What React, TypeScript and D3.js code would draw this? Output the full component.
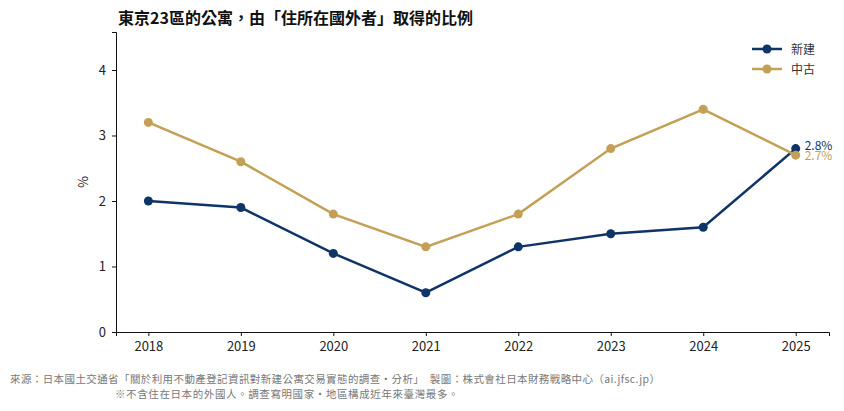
import React, { useEffect, useRef } from "react";
import * as d3 from "d3";

const years = [2018, 2019, 2020, 2021, 2022, 2023, 2024, 2025];
const newBuild = [2.0, 1.9, 1.2, 0.6, 1.3, 1.5, 1.6, 2.8];
const used = [3.2, 2.6, 1.8, 1.3, 1.8, 2.8, 3.4, 2.7];
const yTicks = [0, 1, 2, 3, 4];
const seriesNames = ["新建", "中古"];
const colors = ["#0f3468", "#c4a057"];

const FONT = "'Noto Sans CJK TC', 'Noto Sans', sans-serif";

export default function App() {
  const svgRef = useRef<SVGSVGElement>(null);

  useEffect(() => {
    if (!svgRef.current) return;
    const root = d3.select(svgRef.current);
    root.selectAll("*").remove();

    const left = 116, right = 829, top = 32, bottom = 332;
    const x = d3.scaleLinear().domain([2017.65, 2025.36]).range([left, right]);
    const y = d3.scaleLinear().domain([0, 4.58]).range([bottom, top]);

    // title
    root.append("text").attr("x", 118).attr("y", 24)
      .style("font-family", FONT).style("font-size", "16px").style("font-weight", "bold")
      .attr("fill", "#111").text("東京23區的公寓，由「住所在國外者」取得的比例");

    // axes
    const xAxis = root.append("g").attr("transform", `translate(0,${bottom})`)
      .call(d3.axisBottom(x).tickValues(years).tickFormat(d3.format("d")).tickSizeOuter(0).tickSize(4).tickPadding(6));
    const yAxis = root.append("g").attr("transform", `translate(${left},0)`)
      .call(d3.axisLeft(y).tickValues(yTicks).tickFormat(d3.format("d")).tickSizeOuter(0).tickSize(4).tickPadding(6));
    [xAxis, yAxis].forEach(a => {
      a.select(".domain").attr("stroke", "#111");
      a.selectAll("line").attr("stroke", "#111");
      a.selectAll("text").style("font-family", FONT).style("font-size", "13px").attr("fill", "#222");
    });

    root.append("text").attr("transform", `translate(88,${(top + bottom) / 2}) rotate(-90)`)
      .attr("text-anchor", "middle").style("font-family", FONT).style("font-size", "13px")
      .attr("fill", "#222").text("%");

    const line = d3.line<number>().x((_, i) => x(years[i])).y(d => y(d));
    [newBuild, used].forEach((vals, k) => {
      root.append("path").datum(vals).attr("fill", "none").attr("stroke", colors[k])
        .attr("stroke-width", 2.5).attr("d", line);
      root.selectAll(null).data(vals).enter().append("circle")
        .attr("cx", (_, i) => x(years[i])).attr("cy", d => y(d)).attr("r", 4.5).attr("fill", colors[k]);
    });

    // end labels (they overlap in the original too)
    const last = years.length - 1;
    root.append("text").attr("x", x(years[last]) + 9).attr("y", y(newBuild[last]) + 1)
      .style("font-family", FONT).style("font-size", "12px").attr("fill", colors[0])
      .text(`${newBuild[last].toFixed(1)}%`);
    root.append("text").attr("x", x(years[last]) + 9).attr("y", y(used[last]) + 5)
      .style("font-family", FONT).style("font-size", "12px").attr("fill", colors[1])
      .text(`${used[last].toFixed(1)}%`);

    // legend
    seriesNames.forEach((name, k) => {
      const ly = 49 + k * 20;
      root.append("line").attr("x1", 752).attr("x2", 782).attr("y1", ly).attr("y2", ly)
        .attr("stroke", colors[k]).attr("stroke-width", 2.5);
      root.append("circle").attr("cx", 767).attr("cy", ly).attr("r", 4.5).attr("fill", colors[k]);
      root.append("text").attr("x", 791).attr("y", ly + 4.5)
        .style("font-family", FONT).style("font-size", "12px").attr("fill", "#333").text(name);
    });

    // footer
    root.append("text").attr("x", 10).attr("y", 383)
      .style("font-family", FONT).style("font-size", "10.5px").style("letter-spacing", "0.4px").attr("fill", "#777")
      .text("來源：日本國土交通省「關於利用不動產登記資訊對新建公寓交易實態的調查·分析」　製圖：株式會社日本財務戰略中心（ai.jfsc.jp）");
    root.append("text").attr("x", 115).attr("y", 398)
      .style("font-family", FONT).style("font-size", "10.5px").style("letter-spacing", "0.6px").attr("fill", "#777")
      .text("※不含住在日本的外國人。調查寫明國家·地區構成近年來臺灣最多。");
  }, []);

  return (
    <svg ref={svgRef} width={844} height={411}
      style={{ position: "fixed", left: 0, top: 0, background: "#fff" }} />
  );
}
